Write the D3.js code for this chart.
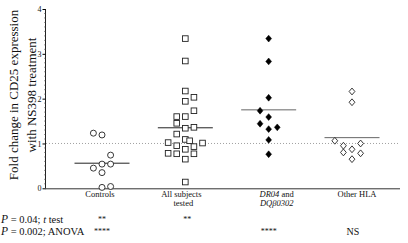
<!DOCTYPE html>
<html><head><meta charset="utf-8">
<script src="https://cdn.jsdelivr.net/npm/d3@7"></script>
<style>body{margin:0;background:#fff}svg{display:block}text{font-family:"Liberation Serif","DejaVu Serif",serif;fill:#111}</style>
</head><body><svg id="c" width="408" height="243"></svg>
<script>
const categories = ["Controls", "All subjects", "DR04", "Other HLA"];
const controls = [[1.23,-1],[1.19,0],[0.74,1],[0.45,-1],[0.54,0],[0.54,1],[0.35,0],[0.02,0],[0.04,1]];
const allSubjects = [[3.34,0],[2.84,0],[2.17,0],[1.94,0],[2.03,1],[1.73,1],[1.60,-1],[1.60,0],[1.45,-1],[1.34,0],[1.36,1],[1.21,-1],[1.09,0],[1.06,0.5],[1.02,-2],[0.95,-1],[0.93,1],[1.01,2],[0.78,-2],[0.77,-1],[0.87,0],[0.77,1],[0.65,0],[0.14,0]];
const dr04 = [[3.34,0],[2.83,0],[2.02,0],[1.73,-1],[1.59,0],[1.44,-1],[1.32,0],[1.36,1],[1.08,0],[0.76,0]];
const otherHLA = [[2.16,0],[1.92,0],[1.06,-2],[0.95,-1],[1.00,1],[0.80,-1],[0.87,0],[0.78,1],[0.65,0]];
const medians = [0.56, 1.35, 1.75, 1.13];
const yTicks = [0, 1, 2, 3, 4];
const tTestRow = ["**", "**", "", ""];
const anovaRow = ["****", "", "****", "NS"];

const svg = d3.select("#c");
const y = d3.scaleLinear().domain([0, 4]).range([188.3, 9]);
const x = d3.scalePoint().domain(categories).range([102, 352]);
const pitch = 8.6;

// dotted reference line at 1
svg.append("line").attr("x1", 46).attr("x2", 400).attr("y1", y(1)).attr("y2", y(1))
  .attr("stroke", "#888").attr("stroke-width", 0.8).attr("stroke-dasharray", "1,2");

// y axis
const ax = svg.append("g").attr("transform", "translate(45.5,0)")
  .call(d3.axisLeft(y).tickValues(yTicks).tickSize(3).tickPadding(1).tickFormat(d3.format("d")));
ax.select(".domain").attr("stroke", "#222").attr("d", `M0,${y(4)}V${y(0)}`);
ax.selectAll("text").style("font-size", "8px").attr("font-family", "Liberation Serif");
const minor = d3.range(0, 40).map(i => i / 10).filter(v => !yTicks.includes(v));
svg.append("g").selectAll("line").data(minor).join("line")
  .attr("x1", 44).attr("x2", 45.5).attr("y1", d => y(d)).attr("y2", d => y(d))
  .attr("stroke", "#555").attr("stroke-width", 0.6);

// x axis baseline
svg.append("line").attr("x1", 45).attr("x2", 400).attr("y1", y(0) + 0.5).attr("y2", y(0) + 0.5)
  .attr("stroke", "#333").attr("stroke-width", 1);

// y title
const yt = svg.append("g").attr("transform", `translate(0,95) rotate(-90)`);
yt.append("text").attr("x", 0).attr("y", 18).attr("text-anchor", "middle").style("font-size", "13px")
  .text("Fold change in CD25 expression");
yt.append("text").attr("x", 0).attr("y", 35.5).attr("text-anchor", "middle").style("font-size", "13px")
  .text("with NS398 treatment");

// medians
svg.append("g").selectAll("line").data(medians).join("line")
  .attr("x1", (d, i) => x(categories[i]) - 27.5).attr("x2", (d, i) => x(categories[i]) + 27.5)
  .attr("y1", d => y(d)).attr("y2", d => y(d))
  .attr("stroke", (d, i) => i < 2 ? "#222" : "#666").attr("stroke-width", 1);

const px = (cat, s) => x(cat) + s * pitch;

// Controls: open circles
svg.append("g").selectAll("circle").data(controls).join("circle")
  .attr("cx", d => px("Controls", d[1])).attr("cy", d => y(d[0])).attr("r", 3)
  .attr("fill", "#fff").attr("stroke", "#222").attr("stroke-width", 0.9);

// All subjects: open squares
svg.append("g").selectAll("rect").data(allSubjects).join("rect")
  .attr("x", d => px("All subjects", d[1]) - 2.8).attr("y", d => y(d[0]) - 2.8)
  .attr("width", 5.6).attr("height", 5.6)
  .attr("fill", "#fff").attr("stroke", "#222").attr("stroke-width", 0.9);

const diamond = "M0,-3.4L2.9,0L0,3.4L-2.9,0Z";
svg.append("g").selectAll("path").data(dr04).join("path")
  .attr("transform", d => `translate(${px("DR04", d[1])},${y(d[0])})`).attr("d", diamond)
  .attr("fill", "#000").attr("stroke", "#000").attr("stroke-width", 0.5);
svg.append("g").selectAll("path").data(otherHLA).join("path")
  .attr("transform", d => `translate(${px("Other HLA", d[1])},${y(d[0])})`).attr("d", diamond)
  .attr("fill", "#fff").attr("stroke", "#222").attr("stroke-width", 0.9);

// category labels
const lab = svg.append("g").style("font-size", "8.5px").attr("text-anchor", "middle");
lab.append("text").attr("x", x("Controls") - 2).attr("y", 197).text("Controls");
lab.append("text").attr("x", x("All subjects") - 4).attr("y", 197).text("All subjects");
lab.append("text").attr("x", x("All subjects") - 2).attr("y", 206).text("tested");
const t1 = lab.append("text").attr("x", x("DR04") + 8).attr("y", 197);
t1.append("tspan").style("font-style", "italic").text("DR04");
t1.append("tspan").text(" and");
lab.append("text").attr("x", x("DR04") + 8).attr("y", 205.5).style("font-style", "italic").text("DQβ0302");
lab.append("text").attr("x", x("Other HLA") + 5).attr("y", 196.5).text("Other HLA");

// stats rows
const st = svg.append("g").style("font-size", "10.5px");
const r1 = st.append("text").attr("x", 1).attr("y", 223);
r1.append("tspan").style("font-style", "italic").style("font-size", "11.5px").text("P");
r1.append("tspan").text(" = 0.04; ");
r1.append("tspan").style("font-style", "italic").text("t");
r1.append("tspan").text(" test");
const r2 = st.append("text").attr("x", 1).attr("y", 235);
r2.append("tspan").style("font-style", "italic").style("font-size", "11.5px").text("P");
r2.append("tspan").text(" = 0.002; ANOVA");
st.append("g").selectAll("text").data(tTestRow).join("text")
  .attr("x", (d, i) => x(categories[i]) + (i === 1 ? 2 : 0)).attr("y", 222).attr("text-anchor", "middle")
  .style("font-size", "8px").text(d => d);
st.append("g").selectAll("text").data(anovaRow).join("text")
  .attr("x", (d, i) => x(categories[i]) + (i === 3 ? 1 : 0)).attr("y", d => d === "NS" ? 235 : 234).attr("text-anchor", "middle")
  .style("font-size", d => d === "NS" ? "10px" : "8px").text(d => d);
</script></body></html>
